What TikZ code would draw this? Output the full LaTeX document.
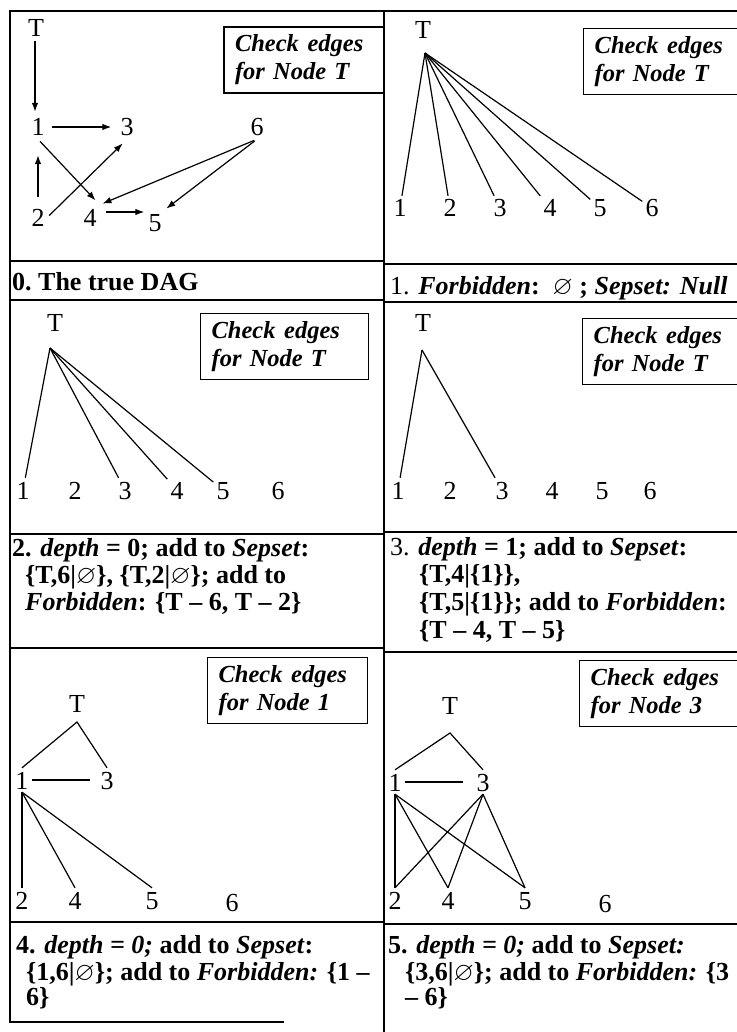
\documentclass[tikz,border=0pt]{standalone}
\usepackage{amssymb}
\usepackage{fontspec}
\setmainfont{Liberation Serif}
\usetikzlibrary{arrows.meta}
\tikzset{
  gridline/.style={line width=1.5pt, line cap=rect},
  vtx/.style={font=\fontsize{26}{26}\selectfont, inner sep=3pt, text height=18pt, text depth=0pt},
  link/.style={line width=1.2pt},
  arc/.style={line width=1.2pt, -{Latex[length=9pt,width=6.5pt]}},
  chk/.style={draw, line width=1.3pt, anchor=north west, align=left, inner xsep=11pt, inner ysep=0pt, minimum height=66pt, font=\fontsize{24.5}{28}\selectfont\bfseries\itshape},
  lbl/.style={anchor=base west, inner sep=0pt, font=\fontsize{26}{27}\selectfont\bfseries},
}
\begin{document}
\begin{tikzpicture}[x=1pt,y=-1pt]
\useasboundingbox (0,0) rectangle (736,1032);
\fill[white] (0,0) rectangle (736,1032);
% ---------- table rules ----------
\draw[gridline] (736,11) -- (10,11) -- (10,1022) -- (283,1022);
\draw[gridline] (384,11) -- (384,1032);
\draw[gridline] (10,261) -- (384,261);
\draw[gridline] (10,300) -- (384,300);
\draw[gridline] (10,534) -- (384,534);
\draw[gridline] (10,648) -- (384,648);
\draw[gridline] (10,922) -- (384,922);
\draw[gridline] (384,264) -- (736,264);
\draw[gridline] (384,302) -- (736,302);
\draw[gridline] (384,532) -- (736,532);
\draw[gridline] (384,652) -- (736,652);
\draw[gridline] (384,924) -- (736,924);
% ---------- check boxes ----------
\node[chk, minimum width=160pt, text width=138pt, line width=2pt] (k0) at (223,26) {Check\hspace{0.35em}edges\\for Node T};
\node[chk, minimum width=190pt, text width=168pt] (k1) at (583,28) {Check\hspace{0.35em}edges\\for Node T};
\node[chk, minimum width=168pt, text width=146pt] (k2) at (200,313) {Check\hspace{0.35em}edges\\for Node T};
\node[chk, minimum width=190pt, text width=168pt] (k3) at (582,318) {Check\hspace{0.35em}edges\\for Node T};
\node[chk, minimum width=160pt, text width=138pt] (k4) at (207,657) {Check\hspace{0.35em}edges\\for Node 1};
\node[chk, minimum width=190pt, text width=168pt] (k5) at (579,660) {Check\hspace{0.35em}edges\\for Node 3};
% ---------- panel 0: true DAG ----------
\node[vtx] (a0t) at (36,28) {T};
\node[vtx] (a01) at (38,127) {1};
\node[vtx] (a03) at (127,127) {3};
\node[vtx] (a06) at (257,127) {6};
\node[vtx] (a02) at (38,217) {2};
\node[vtx] (a04) at (90,217) {4};
\node[vtx] (a05) at (155,222) {5};
\draw[arc, shorten <=1pt, shorten >=3pt] ([xshift=-1pt]a0t.south) -- ([xshift=-1pt]a0t.south |- a01.north);
\draw[arc, shorten <=4pt, shorten >=6pt] (a01.east) -- (a03.west);
\draw[arc, shorten <=8pt, shorten >=16pt] (a02.north) -- (a02.north |- a01.south);
\draw[arc, shorten <=3pt, shorten >=6pt] (a01.south) -- (a04.north east);
\draw[arc, shorten <=2pt, shorten >=6pt] (a02.east) -- (a03.south);
\draw[arc, shorten <=3pt, shorten >=3pt] (a06.south) -- (a04.north east);
\draw[arc, shorten <=3pt, shorten >=2pt] (a06.south) -- (a05.north east);
\draw[arc, shorten <=6pt, shorten >=1pt] ([yshift=5pt]a04.east) -- ([yshift=5pt]a04.east -| a05.west);
\node[lbl] (c0a) at (12,290) {0.\ The true DAG};
% ---------- panel 1 ----------
\node[vtx] (b0t) at (423,30) {T};
\coordinate (b0a) at ([xshift=2pt,yshift=-23pt]b0t.center);
\foreach \n/\x in {1/400,2/450,3/500,4/550,5/600,6/652}{
  \node[vtx] (b0\n) at (\x,208) {\n};
  \draw[link] (b0a) -- (b0\n);
}
\node[lbl] (c1a) at (390,294) {{\mdseries 1.} \textit{Forbidden}:\ \ $\varnothing$\ ; \textit{Sepset: Null}};
% ---------- panel 2 ----------
\node[vtx] (b1t) at (55,322) {T};
\coordinate (b1a) at ([xshift=-5pt,yshift=-26pt]b1t.center);
\foreach \n/\x in {1/23,2/75,3/125,4/177,5/223,6/278}{
  \node[vtx] (b1\n) at (\x,490) {\n};
}
\foreach \n in {1,3,4,5}{ \draw[link] (b1a) -- (b1\n); }
\node[lbl] (c2a) at (12,556) {2. \textit{depth} = 0; add to \textit{Sepset}:};
\node[lbl] (c2b) at (25,583) {\{T,6|$\varnothing$\}, \{T,2|$\varnothing$\}; add to};
\node[lbl] (c2c) at (25,610) {\textit{Forbidden}: \{T – 6, T – 2\}};
% ---------- panel 3 ----------
\node[vtx] (b2t) at (423,322) {T};
\coordinate (b2a) at ([xshift=-1pt,yshift=-28pt]b2t.center);
\foreach \n/\x in {1/398,2/450,3/502,4/552,5/602,6/650}{
  \node[vtx] (b2\n) at (\x,490) {\n};
}
\foreach \n in {1,3}{ \draw[link] (b2a) -- (b2\n); }
\node[lbl] (c3a) at (390,555) {{\mdseries 3.} \textit{depth} = 1; add to \textit{Sepset}:};
\node[lbl] (c3b) at (419,582) {\{T,4|\{1\}\},};
\node[lbl] (c3c) at (419,610) {\{T,5|\{1\}\}; add to \textit{Forbidden}:};
\node[lbl] (c3d) at (419,638) {\{T – 4, T – 5\}};
% ---------- panel 4 ----------
\node[vtx] (b3t) at (77,703) {T};
\coordinate (b3a) at ([yshift=-19pt]b3t.center);
\node[vtx] (b31) at (22,780) {1};
\node[vtx] (b33) at (107,780) {3};
\node[vtx] (b32) at (22,900) {2};
\node[vtx] (b34) at (75,900) {4};
\node[vtx] (b35) at (152,900) {5};
\node[vtx] (b36) at (232,902) {6};
\draw[link] (b31.north) -- (b3a) -- (b33.north);
\draw[link, shorten >=7pt] (b31.east) -- (b33.west);
\foreach \n in {2,4,5}{ \draw[link] (b31.south) -- (b3\n.north); }
\node[lbl] (c4a) at (16,953) {4. \textit{depth = 0;} add to \textit{Sepset}:};
\node[lbl] (c4b) at (26,980) {\{1,6|$\varnothing$\}; add to \textit{Forbidden:} \{1 –};
\node[lbl] (c4c) at (26,1005) {6\}};
% ---------- panel 5 ----------
\node[vtx] (b4t) at (450,705) {T};
\coordinate (b4a) at ([yshift=-28pt]b4t.center);
\node[vtx] (b41) at (395,782) {1};
\node[vtx] (b43) at (483,782) {3};
\node[vtx] (b42) at (395,900) {2};
\node[vtx] (b44) at (448,900) {4};
\node[vtx] (b45) at (525,900) {5};
\node[vtx] (b46) at (605,903) {6};
\draw[link] (b41.north) -- (b4a) -- (b43.north);
\draw[link, shorten >=10pt] (b41.east) -- (b43.west);
\foreach \n in {2,4,5}{ \draw[link] (b41.south) -- (b4\n.north); \draw[link] (b43.south) -- (b4\n.north); }
\node[lbl] (c5a) at (388,953) {5. \textit{depth = 0;} add to \textit{Sepset:}};
\node[lbl] (c5b) at (405,980) {\{3,6|$\varnothing$\}; add to \textit{Forbidden:} \{3};
\node[lbl] (c5c) at (405,1005) {– 6\}};
\end{tikzpicture}
\end{document}
